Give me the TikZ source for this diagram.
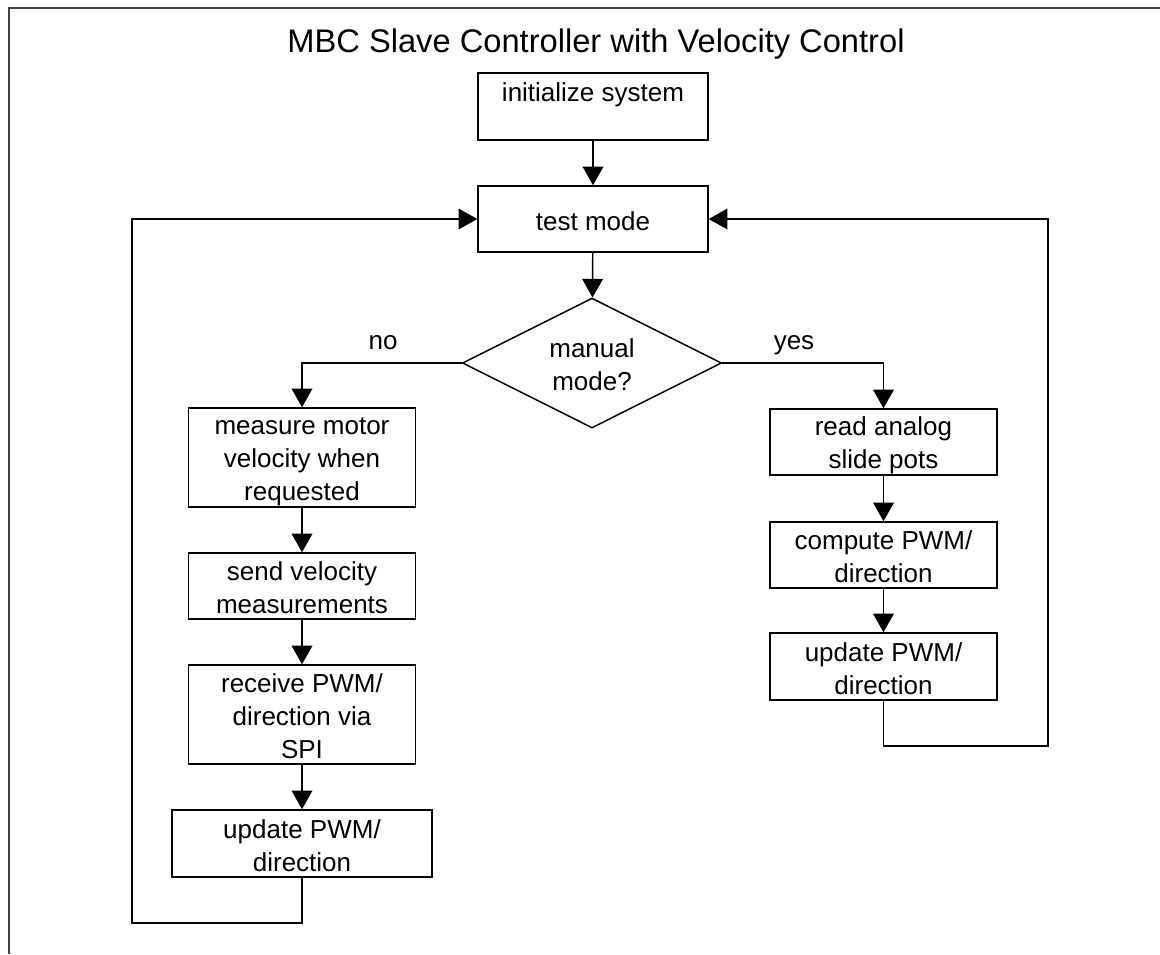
\documentclass[tikz,border=0pt]{standalone}
\usepackage{fontspec}
\setmainfont{Liberation Sans}
\usetikzlibrary{shapes.geometric,arrows.meta}
\newcommand{\Tst}{\rule{0pt}{18.5pt}}
\newcommand{\Bst}{\rule[-2pt]{0pt}{2pt}}
\begin{document}
\begin{tikzpicture}[x=0.75pt,y=-0.75pt,
  box/.style={draw, line width=1.1pt, rectangle, align=center, inner sep=0pt,
    font=\fontsize{19.5}{24.75}\selectfont, minimum width=227*0.75pt},
  dec/.style={draw, line width=1.1pt, diamond, aspect=2, align=center, inner sep=0pt,
    font=\fontsize{19.5}{24.75}\selectfont, minimum width=259*0.75pt, minimum height=130*0.75pt},
  conn/.style={line width=1.1pt, -{Triangle[length=14pt,width=15.5pt]}},
  lbl/.style={font=\fontsize{19.5}{24.75}\selectfont, anchor=base, inner sep=0pt},
  frame/.style={line width=1.5pt, black!75}]
\useasboundingbox (0,0) rectangle (1160,954);
% outer frame (open at right and bottom)
\draw[frame] (9,954) -- (9,8) -- (1160,8);
% title
\node[font=\fontsize{24.5}{30}\selectfont, anchor=base, inner sep=0pt] (title) at (596,52) {MBC Slave Controller with Velocity Control};
% nodes
\node[box, minimum width=230*0.75pt, minimum height=67*0.75pt] (init) at (593,106.5) {\Tst initialize system\\ \Bst};
\node[box, minimum width=230*0.75pt, minimum height=66*0.75pt] (test) at (593,219) {\Tst test mode\Bst};
\node[dec] (dia) at (592,363) {\Tst manual\\mode?\Bst};
\node[box, minimum height=99*0.75pt] (meas) at (302,457.5) {\Tst measure motor\\velocity when\\requested\Bst};
\node[box, minimum height=66*0.75pt] (send) at (302,586) {\Tst send velocity\\measurements\Bst};
\node[box, minimum height=99*0.75pt] (recv) at (302,714.5) {\Tst receive PWM/\\direction via\\SPI\Bst};
\node[box, minimum width=260*0.75pt, minimum height=67*0.75pt] (updl) at (302,843.5) {\Tst update PWM/\\direction\Bst};
\node[box, minimum height=66*0.75pt] (read) at (883.5,442) {\Tst read analog\\slide pots\Bst};
\node[box, minimum height=66*0.75pt] (comp) at (883.5,555) {\Tst compute PWM/\\direction\Bst};
\node[box, minimum height=67*0.75pt] (updr) at (883.5,666.5) {\Tst update PWM/\\direction\Bst};
% labels
\node[lbl] (no) at (383,349) {no};
\node[lbl] (yes) at (794,349) {yes};
% loop corners
\coordinate (lb) at (132,923);
\coordinate (rb) at (1048,746);
% connectors
\draw[conn] (init) -- (test);
\draw[conn] (test) -- (dia);
\draw[conn] (dia.west) -| (meas.north);
\draw[conn] (dia.east) -| (read.north);
\draw[conn] (meas) -- (send);
\draw[conn] (send) -- (recv);
\draw[conn] (recv) -- (updl);
\draw[conn] (read) -- (comp);
\draw[conn] (comp) -- (updr);
\draw[conn] (updl.south) |- (lb) |- (test.west);
\draw[conn] (updr.south) |- (rb) |- (test.east);
\end{tikzpicture}
\end{document}
